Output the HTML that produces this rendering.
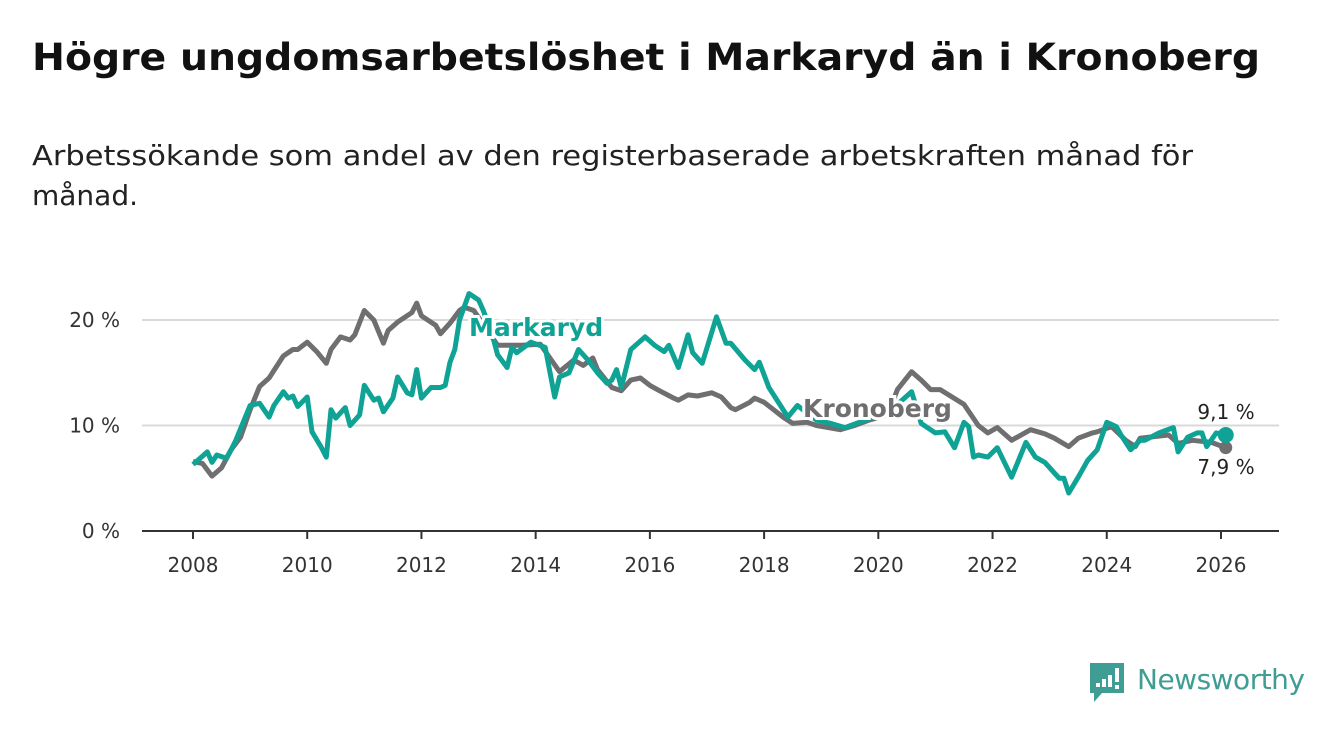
<!DOCTYPE html>
<html><head><meta charset="utf-8"><style>
body{margin:0;width:1340px;height:734px;background:#fff;font-family:"DejaVu Sans","Liberation Sans",sans-serif;overflow:hidden;position:relative}
h1{position:absolute;left:32px;top:36px;margin:0;font-size:37px;font-weight:bold;color:#111;white-space:nowrap;transform-origin:0 0}
p.sub{position:absolute;left:32px;top:136px;margin:0;font-size:28px;line-height:40px;color:#222;white-space:nowrap}
p.sub span{display:inline-block;transform-origin:0 0}
svg{position:absolute;left:0;top:0}
</style></head><body>
<h1 id="title">Högre ungdomsarbetslöshet i Markaryd än i Kronoberg</h1>
<p class="sub"><span id="sub1">Arbetssökande som andel av den registerbaserade arbetskraften månad för</span><br><span>månad.</span></p>
<svg id="chart" width="1340" height="734"></svg>
<script>
const yTicks=[0,10,20];
const yTickLabels=["0 %","10 %","20 %"];
const xTicks=[2008,2010,2012,2014,2016,2018,2020,2022,2024,2026];
const kronMonths=[0,2,4,6,8,10,12,14,16,19,21,22,24,26,28,29,31,33,34,36,38,40,41,43,46,47,48,51,52,54,56,57,59,64,69,73,75,77,80,82,84,85,88,90,92,94,96,98,101,102,104,106,109,111,113,114,117,118,120,122,124,126,129,131,136,139,142,146,148,151,153,155,157,162,165,167,169,172,176,179,181,184,186,189,190,193,196,198,199,201,205,207,210,214,217];
const kronValues=[6.6,6.4,5.2,6.0,7.7,8.9,11.5,13.7,14.5,16.6,17.2,17.2,17.9,17.0,15.9,17.2,18.4,18.1,18.6,20.9,20.0,17.8,19.0,19.8,20.7,21.6,20.4,19.5,18.7,19.7,20.9,21.2,20.9,17.6,17.6,17.7,16.4,15.1,16.2,15.7,16.4,15.3,13.6,13.3,14.3,14.5,13.8,13.3,12.6,12.4,12.9,12.8,13.1,12.7,11.7,11.5,12.2,12.6,12.2,11.5,10.8,10.2,10.3,10.0,9.6,10.0,10.5,11.0,13.4,15.1,14.3,13.4,13.4,12.0,10.0,9.3,9.8,8.6,9.6,9.2,8.8,8.0,8.8,9.3,9.4,9.9,8.6,8.0,8.8,8.9,9.1,8.3,8.6,8.4,7.9];
const markMonths=[0,3,4,5,7,8,9,12,14,16,17,19,20,21,22,24,25,27,28,29,30,32,33,35,36,38,39,40,42,43,45,46,47,48,50,52,53,54,55,56,58,60,61,63,64,66,67,68,71,74,76,77,79,81,83,85,87,88,89,90,92,95,97,99,100,102,104,105,107,110,112,113,116,118,119,121,125,127,131,134,137,140,144,148,151,153,156,158,160,162,163,164,165,167,169,172,175,177,179,182,183,184,186,188,190,192,194,195,197,199,200,203,206,207,209,211,212,213,215,217];
const markValues=[6.3,7.5,6.5,7.2,6.9,7.7,8.6,11.9,12.1,10.8,11.9,13.2,12.6,12.8,11.8,12.7,9.4,7.9,7.0,11.5,10.7,11.7,10.0,11.0,13.8,12.4,12.6,11.3,12.6,14.6,13.1,12.9,15.3,12.6,13.6,13.6,13.8,16.0,17.2,20.0,22.5,21.9,20.9,18.4,16.7,15.5,17.4,16.9,17.9,17.4,12.7,14.6,15.0,17.2,16.2,15.0,14.0,14.3,15.3,13.6,17.2,18.4,17.6,17.0,17.6,15.5,18.6,16.9,15.9,20.3,17.8,17.8,16.2,15.3,16.0,13.6,10.8,11.9,10.5,10.2,9.8,10.3,11.0,12.0,13.2,10.2,9.3,9.4,7.9,10.3,9.9,7.0,7.2,7.0,7.9,5.1,8.4,7.0,6.5,5.0,5.0,3.6,5.1,6.7,7.7,10.3,9.9,9.1,7.7,8.6,8.6,9.3,9.8,7.5,8.9,9.3,9.3,8.0,9.3,9.1];

function fit(id,w){const e=document.getElementById(id);const r=e.getBoundingClientRect().width;e.style.transform='scaleX('+(w/r)+')';}
fit('title',1228);
fit('sub1',1161);

const NS="http://www.w3.org/2000/svg";
const svg=document.getElementById('chart');
const X0=193,PXY=57.11,Y0=531,PXV=10.55;
const xs=y=>X0+(y-2008)*PXY;
const xm=m=>X0+m*PXY/12;
const ys=v=>Y0-v*PXV;
function el(t,a,p){const e=document.createElementNS(NS,t);for(const k in a)e.setAttribute(k,a[k]);(p||svg).appendChild(e);return e;}

yTicks.forEach((t,i)=>{
  if(t>0){const g=el('line',{x1:142,x2:1279,y1:ys(t),y2:ys(t),stroke:'#d9d9d9','stroke-width':2});
  
  }
  const l=el('text',{x:120,y:ys(t)+7,'text-anchor':'end','font-size':20,fill:'#333'});
  l.textContent=yTickLabels[i];
  
  
});
const ax=el('line',{x1:142,x2:1279,y1:Y0,y2:Y0,stroke:'#333','stroke-width':2});


xTicks.forEach(t=>{
  const tk=el('line',{x1:xs(t),x2:xs(t),y1:Y0,y2:Y0+8,stroke:'#333','stroke-width':2});
  
  
  const l=el('text',{x:xs(t),y:572,'text-anchor':'middle','font-size':20,fill:'#333'});
  l.textContent=t;
  
  
});
function path(ms,vs){return ms.map((m,i)=>(i?'L':'M')+xm(m).toFixed(1)+','+ys(vs[i]).toFixed(1)).join('');}
const kl=el('path',{d:path(kronMonths,kronValues),fill:'none',stroke:'#6f6e70','stroke-width':5,'stroke-linejoin':'round'});


const ml=el('path',{d:path(markMonths,markValues),fill:'none',stroke:'#0fa395','stroke-width':5,'stroke-linejoin':'round'});


const km=kronMonths.length-1,mm=markMonths.length-1;
const kd=el('circle',{cx:xm(kronMonths[km]),cy:ys(kronValues[km]),r:6.5,fill:'#6f6e70'});


const md=el('circle',{cx:xm(markMonths[mm]),cy:ys(markValues[mm]),r:8,fill:'#0fa395'});


function lab(x,y,txt,col,name,anchor,bold,size){
  const t=el('text',{x:x,y:y,'text-anchor':anchor||'start','font-size':size||25,'font-weight':bold?'bold':'normal',fill:col,stroke:'#fff','stroke-width':bold?6:0,'paint-order':'stroke'});
  t.textContent=txt;
  
  
}
lab(469,336,'Markaryd','#0fa395','markaryd-label','start',true,25);
lab(803,417,'Kronoberg','#6f6e70','kronoberg-label','start',true,25);
lab(1226,419,(markValues[mm]+'').replace('.',',')+' %','#222','markaryd-end-value','middle',false,20);
lab(1226,474,(kronValues[km]+'').replace('.',',')+' %','#222','kronoberg-end-value','middle',false,20);
const g=el('g',{});


el('path',{d:'M1090,663 h34 v30 h-22 l-8,9 v-9 h-4 z',fill:'#3f9d94'},g);
[[1096,683,4],[1102,679,8],[1108,675,12]].forEach(b=>el('rect',{x:b[0],y:b[1],width:4,height:b[2],fill:'#fff'},g));
el('rect',{x:1115,y:668,width:4,height:14,fill:'#fff'},g);
el('rect',{x:1115,y:685,width:4,height:4,fill:'#fff'},g);
const lt=el('text',{x:1137,y:689,'font-size':28,fill:'#3f9d94','textLength':168},g);
lt.textContent='Newsworthy';
</script>
</body></html>
